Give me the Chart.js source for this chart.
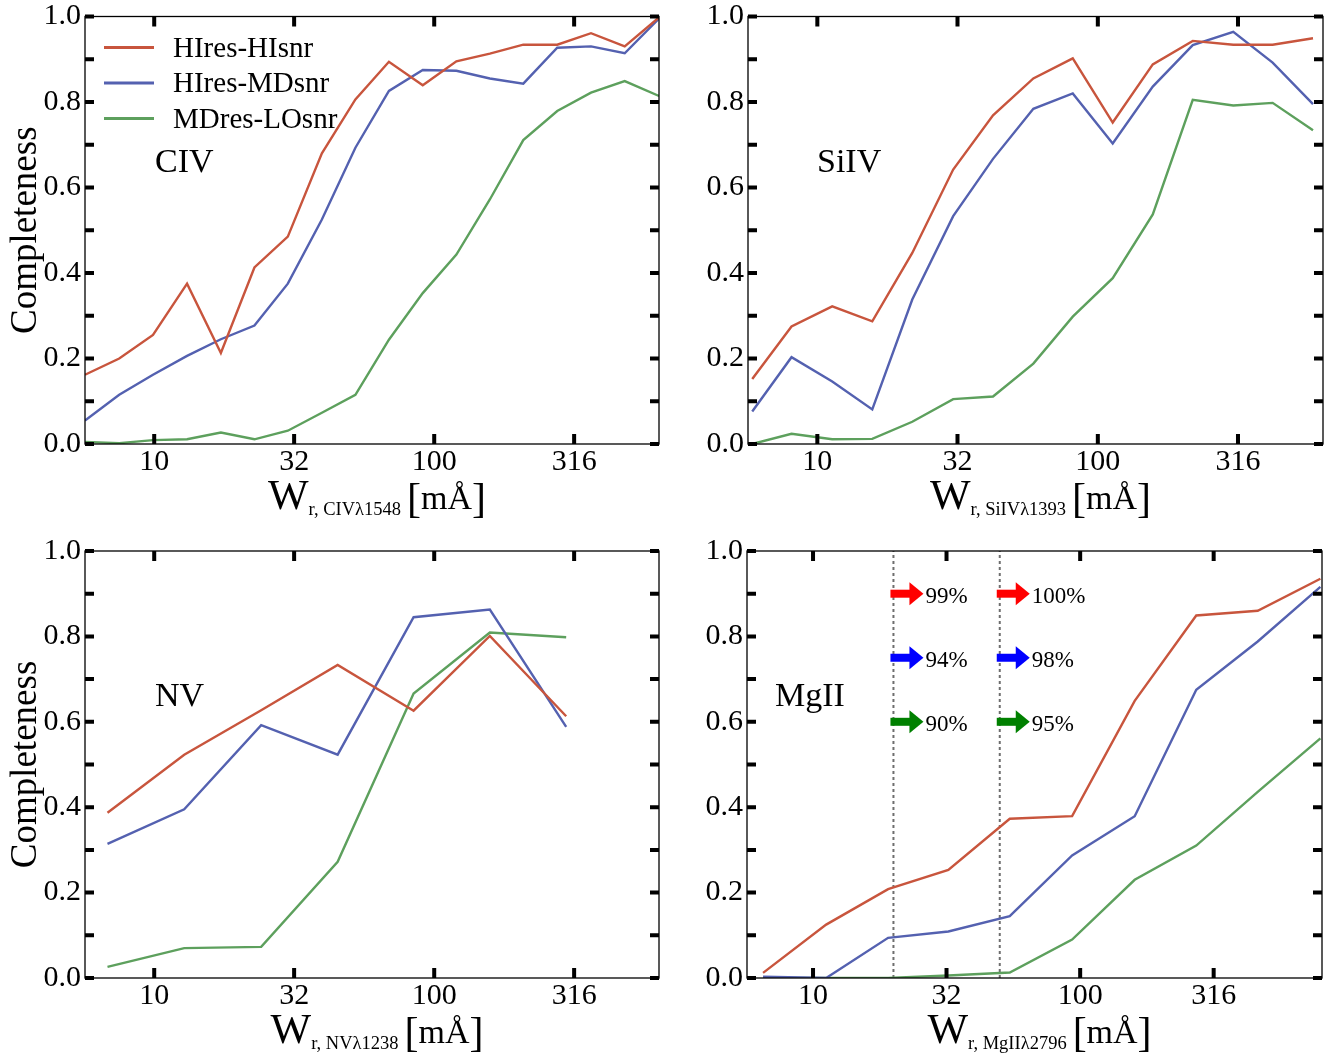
<!DOCTYPE html>
<html>
<head>
<meta charset="utf-8">
<script src="https://cdn.jsdelivr.net/npm/chart.js@4.4.1/dist/chart.umd.min.js"></script>
<style>
  html, body { margin: 0; padding: 0; background: #fff; }
  #wrap { position: relative; width: 1340px; height: 1055px; overflow: hidden; }
  #wrap canvas { position: absolute; }
</style>
</head>
<body>
<div id="wrap">
  <canvas id="pCIV"></canvas>
  <canvas id="pSiIV"></canvas>
  <canvas id="pNV"></canvas>
  <canvas id="pMgII"></canvas>
</div>
<script>
// ===== Data =====
const seriesNames = ['HIres-HIsnr', 'HIres-MDsnr', 'MDres-LOsnr'];
const xTickValues = [10, 31.6, 100, 316];
const xTickLabels = ['10', '32', '100', '316'];
const yTickValues = [0, 0.1, 0.2, 0.3, 0.4, 0.5, 0.6, 0.7, 0.8, 0.9, 1.0];

// CIV
const civW      = [5.66, 7.5, 9.9, 13.1, 17.3, 22.8, 30.0, 39.7, 52.3, 68.9, 91.0, 120, 158, 208, 275, 363, 479, 635];
const civHiHi   = [0.162, 0.200, 0.255, 0.375, 0.213, 0.413, 0.485, 0.680, 0.806, 0.894, 0.839, 0.895, 0.913, 0.934, 0.934, 0.961, 0.930, 0.998];
const civHiMd   = [0.055, 0.115, 0.162, 0.206, 0.245, 0.277, 0.375, 0.525, 0.693, 0.826, 0.875, 0.873, 0.855, 0.843, 0.927, 0.930, 0.914, 0.995];
const civMdLo   = [0.005, 0.002, 0.009, 0.011, 0.027, 0.011, 0.031, 0.073, 0.115, 0.244, 0.353, 0.443, 0.572, 0.711, 0.779, 0.822, 0.849, 0.814];

// SiIV
const siivW     = [5.86, 8.09, 11.3, 15.7, 21.8, 30.5, 42.3, 58.9, 81.4, 113, 157, 218, 304, 420, 585];
const siivHiHi  = [0.152, 0.275, 0.322, 0.287, 0.447, 0.642, 0.769, 0.855, 0.902, 0.752, 0.888, 0.943, 0.934, 0.934, 0.949];
const siivHiMd  = [0.076, 0.203, 0.146, 0.081, 0.338, 0.533, 0.667, 0.784, 0.820, 0.703, 0.836, 0.933, 0.964, 0.892, 0.795];
const siivMdLo  = [0.000, 0.024, 0.011, 0.012, 0.052, 0.105, 0.111, 0.188, 0.298, 0.388, 0.537, 0.805, 0.792, 0.798, 0.734];

// NV
const nvW       = [6.81, 12.8, 24.1, 45.2, 84.4, 158, 296];
const nvHiHi    = [0.387, 0.523, 0.627, 0.733, 0.626, 0.801, 0.613];
const nvHiMd    = [0.314, 0.395, 0.592, 0.523, 0.845, 0.863, 0.588];
const nvMdLo    = [0.026, 0.070, 0.073, 0.272, 0.666, 0.809, 0.798];

// MgII
const mgiiW     = [6.50, 11.2, 19.1, 32.1, 54.5, 93.3, 160, 272, 462, 793];
const mgiiHiHi  = [0.012, 0.125, 0.208, 0.253, 0.373, 0.379, 0.649, 0.849, 0.860, 0.935];
const mgiiHiMd  = [0.003, 0.000, 0.094, 0.109, 0.145, 0.287, 0.379, 0.675, 0.788, 0.916];
const mgiiMdLo  = [0.000, 0.000, 0.000, 0.006, 0.013, 0.090, 0.230, 0.310, 0.436, 0.561];
const mgiiCuts  = [20, 50];
const mgiiCutLevels = [0.9, 0.75, 0.6];
const mgiiCutLabels = [['99%', '94%', '90%'], ['100%', '98%', '95%']];

// ===== Style =====
const FONT = '"Liberation Serif", "Times New Roman", serif';
const lineColors = ['#C8553D', '#5461B0', '#5DA05D'];
const arrowColors = ['#ff0000', '#0000ff', '#008000'];

function pts(xs, ys) { return xs.map((x, i) => ({ x, y: ys[i] })); }

// frame + inward ticks + labels drawn on top
const decor = {
  id: 'decor',
  afterDraw(chart, args, opts) {
    const { ctx, chartArea: a, scales: { x, y } } = chart;
    ctx.save();

    // frame
    ctx.strokeStyle = '#000';
    ctx.lineWidth = 1.3;
    ctx.strokeRect(a.left, a.top, a.right - a.left, a.bottom - a.top);

    // inward ticks
    ctx.lineWidth = 4;
    ctx.beginPath();
    y.ticks.forEach(t => {
      const py = y.getPixelForValue(t.value);
      ctx.moveTo(a.left, py); ctx.lineTo(a.left + 9, py);
      ctx.moveTo(a.right, py); ctx.lineTo(a.right - 9, py);
    });
    x.ticks.forEach(t => {
      const px = x.getPixelForValue(t.value);
      ctx.moveTo(px, a.bottom); ctx.lineTo(px, a.bottom - 10);
      ctx.moveTo(px, a.top); ctx.lineTo(px, a.top + 10);
    });
    ctx.stroke();

    ctx.fillStyle = '#000';

    // x title: W_{r, ION} [mÅ]
    const parts = [
      { t: 'W', f: '43px ' + FONT, dy: 0 },
      { t: 'r, ' + opts.sub, f: '18.5px ' + FONT, dy: 6 },
      { t: ' ', f: '24px ' + FONT, dy: 0 },
      { t: '[', f: '42px ' + FONT, dy: 3 },
      { t: 'mÅ', f: '34px ' + FONT, dy: 0 },
      { t: ']', f: '42px ' + FONT, dy: 3 }
    ];
    let total = 0;
    parts.forEach(p => { ctx.font = p.f; p.w = ctx.measureText(p.t).width; total += p.w; });
    let cx = (a.left + a.right) / 2 - total / 2 + 5;
    const base = a.bottom + 65;
    ctx.textBaseline = 'alphabetic';
    ctx.textAlign = 'left';
    parts.forEach(p => { ctx.font = p.f; ctx.fillText(p.t, cx, base + p.dy); cx += p.w; });

    // y title
    if (opts.yTitle) {
      ctx.save();
      ctx.translate(36, (a.top + a.bottom) / 2);
      ctx.rotate(-Math.PI / 2);
      ctx.font = '37px ' + FONT;
      ctx.textAlign = 'center';
      ctx.fillText('Completeness', 0, 0);
      ctx.restore();
    }

    // ion label
    ctx.font = '34px ' + FONT;
    ctx.textAlign = 'left';
    ctx.fillText(opts.ion, a.left + opts.labelDx, a.top + 155);

    // legend
    if (opts.legend) {
      seriesNames.forEach((name, i) => {
        const ly = a.top + 31 + i * 35.5;
        ctx.strokeStyle = lineColors[i];
        ctx.lineWidth = 3;
        ctx.beginPath(); ctx.moveTo(a.left + 19, ly); ctx.lineTo(a.left + 69, ly); ctx.stroke();
        ctx.font = '29px ' + FONT;
        ctx.fillStyle = '#000';
        ctx.fillText(name, a.left + 88, ly + 9);
      });
    }

    // completeness arrows
    if (opts.arrows) {
      mgiiCuts.forEach((cut, c) => {
        const x0 = x.getPixelForValue(cut) - 3;
        mgiiCutLevels.forEach((lev, r) => {
          const y0 = y.getPixelForValue(lev);
          ctx.fillStyle = arrowColors[r];
          ctx.fillRect(x0, y0 - 4, 20, 8);
          ctx.beginPath();
          ctx.moveTo(x0 + 19, y0 - 11.5);
          ctx.lineTo(x0 + 33, y0);
          ctx.lineTo(x0 + 19, y0 + 11.5);
          ctx.closePath();
          ctx.fill();
          ctx.fillStyle = '#000';
          ctx.font = '23px ' + FONT;
          ctx.fillText(mgiiCutLabels[c][r], x0 + 35, y0 + 9);
        });
      });
    }
    ctx.restore();
  }
};

function makePanel(id, box, area, xMax, series, extra, decorOpts) {
  const cv = document.getElementById(id);
  cv.width = box.w; cv.height = box.h;
  cv.style.left = box.x + 'px'; cv.style.top = box.y + 'px';
  cv.style.width = box.w + 'px'; cv.style.height = box.h + 'px';

  const datasets = series.map((ys, i) => ({
    data: pts(series.xs, ys),
    borderColor: lineColors[i],
    borderWidth: 2.4,
    pointRadius: 0,
    tension: 0
  }));
  (extra || []).forEach(d => datasets.push(d));

  return new Chart(cv, {
    type: 'line',
    data: { datasets },
    plugins: [decor],
    options: {
      responsive: false,
      animation: false,
      devicePixelRatio: 1,
      layout: { padding: { left: 0, top: area.top, right: box.w - area.right, bottom: 0 } },
      plugins: { legend: { display: false }, tooltip: { enabled: false }, decor: decorOpts },
      scales: {
        x: {
          type: 'logarithmic',
          min: 5.66, max: xMax,
          grid: { display: false, drawTicks: false },
          border: { display: false },
          afterBuildTicks: s => { s.ticks = xTickValues.map(v => ({ value: v })); },
          afterFit: s => { s.height = box.h - area.bottom; s.paddingLeft = 0; s.paddingRight = 0; },
          ticks: {
            autoSkip: false, maxRotation: 0, padding: 3, color: '#000',
            font: { family: FONT, size: 30, lineHeight: 1 },
            callback: (v, i) => xTickLabels[i]
          }
        },
        y: {
          min: 0, max: 1,
          grid: { display: false, drawTicks: false },
          border: { display: false },
          afterBuildTicks: s => { s.ticks = yTickValues.map(v => ({ value: v })); },
          afterFit: s => { s.width = area.left; s.paddingTop = 0; s.paddingBottom = 0; },
          ticks: {
            padding: 4, color: '#000',
            font: { family: FONT, size: 30, lineHeight: 1 },
            callback: v => (Math.round(v * 10) % 2 === 0 ? v.toFixed(1) : '')
          }
        }
      }
    }
  });
}

function withX(xs, arr) { arr.xs = xs; return arr; }

makePanel('pCIV', { x: 0, y: 0, w: 670, h: 527 }, { left: 85, top: 16.5, right: 659, bottom: 444 }, 635,
  withX(civW, [civHiHi, civHiMd, civMdLo]), null,
  { sub: 'CIVλ1548', ion: 'CIV', labelDx: 70, yTitle: true, legend: true });

makePanel('pSiIV', { x: 670, y: 0, w: 670, h: 527 }, { left: 78, top: 16.5, right: 653, bottom: 444 }, 635,
  withX(siivW, [siivHiHi, siivHiMd, siivMdLo]), null,
  { sub: 'SiIVλ1393', ion: 'SiIV', labelDx: 69 });

makePanel('pNV', { x: 0, y: 527, w: 670, h: 528 }, { left: 85, top: 24, right: 659, bottom: 451 }, 635,
  withX(nvW, [nvHiHi, nvHiMd, nvMdLo]), null,
  { sub: 'NVλ1238', ion: 'NV', labelDx: 70, yTitle: true });

const cutLines = mgiiCuts.map(c => ({
  data: [{ x: c, y: 0 }, { x: c, y: 1 }],
  borderColor: '#6e6e6e',
  borderWidth: 2,
  borderDash: [3, 3],
  pointRadius: 0
}));

makePanel('pMgII', { x: 670, y: 527, w: 670, h: 528 }, { left: 77, top: 24, right: 652, bottom: 451 }, 804,
  withX(mgiiW, [mgiiHiHi, mgiiHiMd, mgiiMdLo]), cutLines,
  { sub: 'MgIIλ2796', ion: 'MgII', labelDx: 28, arrows: true });
</script>
</body>
</html>
